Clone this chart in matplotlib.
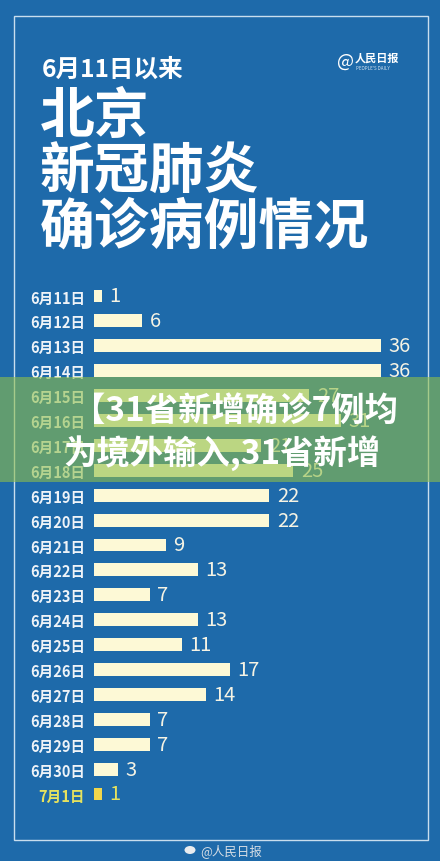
import matplotlib
matplotlib.use('Agg')
import matplotlib.pyplot as plt
from matplotlib.patches import Rectangle, Ellipse

# ---- data ----
dates = ['6月11日', '6月12日', '6月13日', '6月14日', '6月15日', '6月16日', '6月17日',
         '6月18日', '6月19日', '6月20日', '6月21日', '6月22日', '6月23日', '6月24日',
         '6月25日', '6月26日', '6月27日', '6月28日', '6月29日', '6月30日', '7月1日']
cases = [1, 6, 36, 36, 27, 31, 21, 25, 22, 22, 9, 13, 7, 13, 11, 17, 14, 7, 7, 3, 1]
subtitle = '6月11日以来'
title_lines = ['北京', '新冠肺炎', '确诊病例情况']
overlay_lines = ['【31省新增确诊7例均', '为境外输入,31省新增']
logo_cn = '人民日报'
logo_en = "PEOPLE'S DAILY"
footer = '@人民日报'

FAM = ['Noto Sans CJK SC', 'DejaVu Sans']
plt.rcParams['font.family'] = FAM

BG = '#1e6aaa'
CREAM = '#fdf9d6'
YELLOW = '#f1d64c'
W, H = 440, 862


def fx(px):
    return px / W


def fy(py):
    return 1 - py / H


fig = plt.figure(figsize=(W / 100, H / 100), dpi=100)
fig.patch.set_facecolor(BG)

# border frame
fig.add_artist(Rectangle((fx(13.5), fy(841)), fx(428) - fx(13.5), (841 - 17) / H,
                         transform=fig.transFigure, fill=False,
                         edgecolor='#c9deee', linewidth=1.0, zorder=1))

# titles
fig.text(fx(42), fy(70), subtitle, color='white', fontsize=17.7, fontweight='black',
         va='center', ha='left')
for txt, yc in zip(title_lines, [117, 172, 227]):
    fig.text(fx(40), fy(yc), txt, color='white', fontsize=39.5, fontweight='black',
             va='center', ha='left')

# logo
fig.text(fx(337), fy(62), '@', color='white', fontsize=13, va='center', ha='left')
fig.text(fx(355), fy(58), logo_cn, color='white', fontsize=8, fontweight='bold',
         va='center', ha='left')
fig.text(fx(356), fy(68), logo_en, color='#dce8f3', fontsize=3.2, va='center', ha='left')

# bars
n = len(dates)
row_top, row_bot = 297, 795
step = (row_bot - row_top) / (n - 1)
ax = fig.add_axes([fx(94), fy(row_bot + step / 2), (381 - 94) / W,
                   (row_bot - row_top + step) / H])
ax.set_facecolor('none')
colors = [CREAM] * (n - 1) + [YELLOW]
ax.barh(range(n), cases, height=0.52, color=colors, edgecolor='none')
ax.set_xlim(0, 36)
ax.set_ylim(n - 0.5, -0.5)
for s in ax.spines.values():
    s.set_visible(False)
ax.set_xticks([])
ax.set_yticks(range(n))
ax.set_yticklabels(dates, fontsize=10.5, fontweight='bold')
ax.tick_params(axis='y', length=0, pad=6.5)
for i, lab in enumerate(ax.get_yticklabels()):
    lab.set_color('#e6e25e' if i == n - 1 else '#eef3f8')
for i, v in enumerate(cases):
    ax.annotate(str(v), xy=(v, i), xytext=(5.5, 0), textcoords='offset points',
                va='center', ha='left', fontsize=14.5, fontweight='medium',
                color='#e6e25e' if i == n - 1 else '#f5f3e4',
                annotation_clip=False)

# overlay band
fig.add_artist(Rectangle((0, fy(483)), 1, (483 - 378) / H, transform=fig.transFigure,
                         facecolor='#8fbf4a', alpha=0.6, edgecolor='none', zorder=10))
fig.text(fx(235), fy(411), overlay_lines[0], color='white', fontsize=24,
         fontweight='black', va='center', ha='center', zorder=11)
fig.text(fx(222), fy(453), overlay_lines[1], color='white', fontsize=24,
         fontweight='black', va='center', ha='center', zorder=11)

# footer
fig.add_artist(Ellipse((fx(190), fy(851)), 11 / W, 8 / H, transform=fig.transFigure,
                       facecolor='#e8ecef', edgecolor='none', zorder=2))
fig.text(fx(200), fy(851), footer, color='#d5dde5', fontsize=9, va='center',
         ha='left')

fig.savefig('out.png', dpi=100, facecolor=BG)
